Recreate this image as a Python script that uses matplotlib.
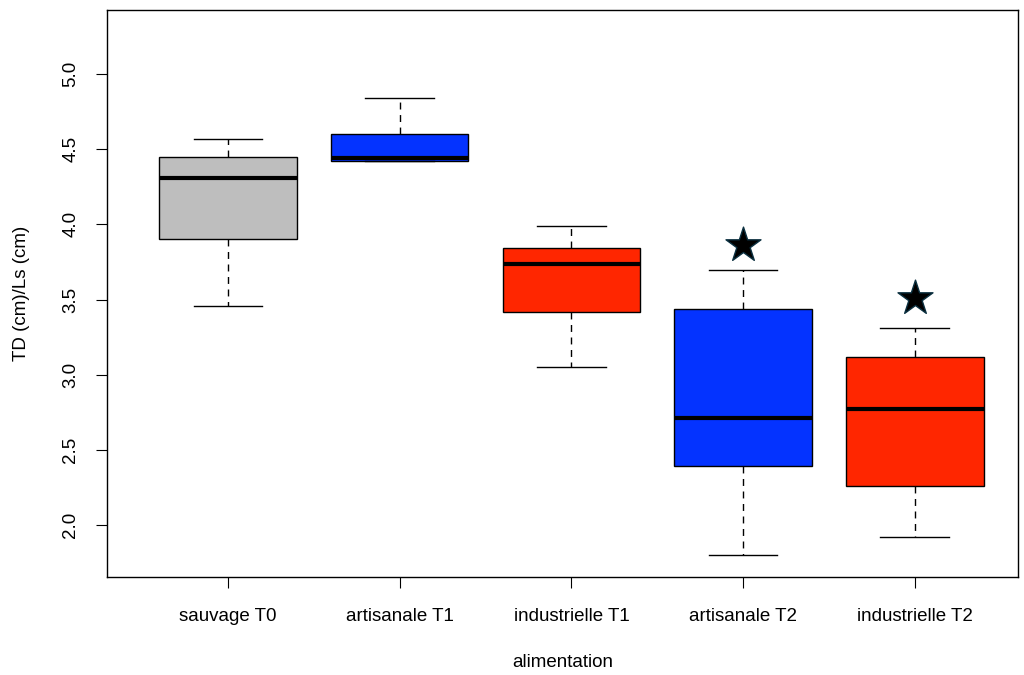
import matplotlib
matplotlib.use("Agg")
import matplotlib.pyplot as plt
import numpy as np

matplotlib.rcParams['font.family'] = 'sans-serif'
matplotlib.rcParams['font.sans-serif'] = ['Liberation Sans', 'DejaVu Sans']

# values (box statistics per group)
groups = ['sauvage T0', 'artisanale T1', 'industrielle T1', 'artisanale T2', 'industrielle T2']
whisk_low = [3.46, 4.42, 3.05, 1.80, 1.92]
q1 = [3.90, 4.42, 3.42, 2.39, 2.26]
median = [4.31, 4.44, 3.74, 2.71, 2.77]
q3 = [4.45, 4.60, 3.84, 3.44, 3.12]
whisk_high = [4.57, 4.84, 3.99, 3.70, 3.31]
colors = ['#bebebe', '#0433ff', '#ff2600', '#0433ff', '#ff2600']

# stars marking significant groups
star_groups = [4, 5]
star_values = [3.86, 3.51]

stats = []
for i in range(len(groups)):
    stats.append({'whislo': whisk_low[i], 'q1': q1[i], 'med': median[i],
                  'q3': q3[i], 'whishi': whisk_high[i], 'fliers': [],
                  'label': groups[i]})

fig = plt.figure(figsize=(10.24, 6.75), dpi=100)
ax = fig.add_axes([0.1045, 0.1452, 0.8895, 0.8398])

pos = np.arange(1, len(groups) + 1)
bp = ax.bxp(stats, positions=pos, widths=0.8, patch_artist=True,
            showfliers=False,
            boxprops=dict(edgecolor='black', linewidth=1),
            medianprops=dict(color='black', linewidth=3, solid_capstyle='butt'),
            whiskerprops=dict(color='black', linewidth=1, linestyle=(0, (5, 4))),
            capprops=dict(color='black', linewidth=1),
            capwidths=0.4)
for patch, c in zip(bp['boxes'], colors):
    patch.set_facecolor(c)

ax.scatter(star_groups, star_values, marker='*', s=700, color='black',
           edgecolor='#0b3040', linewidth=1, zorder=5)

ax.set_xlim(0.295, 5.6)
ax.set_ylim(1.654, 5.426)
ax.set_yticks([2.0, 2.5, 3.0, 3.5, 4.0, 4.5, 5.0])
ax.set_yticklabels(['2.0', '2.5', '3.0', '3.5', '4.0', '4.5', '5.0'],
                   rotation=90, va='center')
ax.set_xticks(pos)
ax.set_xticklabels(groups)
ax.tick_params(axis='both', direction='out', length=8, width=0.8,
               labelsize=13.5, pad=12)
ax.tick_params(axis='x', pad=14)

ax.set_xlabel('alimentation', fontsize=13.5, labelpad=21)
ax.set_ylabel('TD (cm)/Ls (cm)', fontsize=13.5, labelpad=23)

for sp in ax.spines.values():
    sp.set_linewidth(1)

fig.savefig('out.png', dpi=100)
